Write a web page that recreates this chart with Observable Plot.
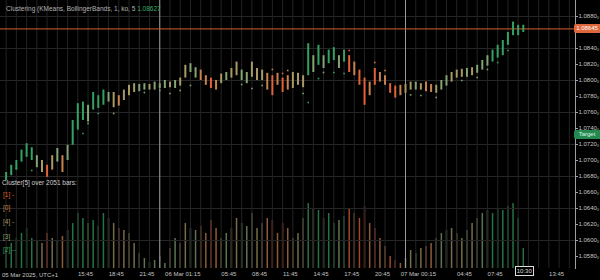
<!DOCTYPE html>
<html><head><meta charset="utf-8">
<script src="https://cdn.jsdelivr.net/npm/d3@7"></script>
<script src="https://cdn.jsdelivr.net/npm/@observablehq/plot@0.6"></script>
<style>
html,body{margin:0;padding:0;background:#000;}
#chart{position:relative;width:600px;height:280px;overflow:hidden;background:#000;font-family:"Liberation Sans",Arial,sans-serif;font-size:6.5px;color:#bdbdbd;}
#chart svg{position:absolute;left:0;top:0;}
.lbl{position:absolute;white-space:nowrap;line-height:1;}
.box{position:absolute;white-space:nowrap;text-align:center;font-size:6px;}
</style></head><body>
<div id="chart"></div>
<script>
// ---- data (30-minute bars, EURUSD-like) ----
const firstBar = "2025-03-05T08:00:00Z";
const high = [
1.0685,1.0694,1.0700,1.0713,1.0721,1.0716,1.0706,1.0700,1.0694,1.0706,
1.0715,1.0706,1.0719,1.0750,1.0771,1.0773,1.0769,1.0785,1.0781,1.0788,
1.0785,1.0785,1.0781,1.0788,1.0794,1.0796,1.0795,1.0796,1.0795,1.0798,
1.0796,1.0800,1.0798,1.0800,1.0803,1.0819,1.0821,1.0816,1.0813,1.0806,
1.0803,1.0800,1.0808,1.0810,1.0815,1.0823,1.0813,1.0810,1.0823,1.0815,
1.0813,1.0809,1.0806,1.0809,1.0803,1.0806,1.0810,1.0809,1.0806,1.0846,
1.0831,1.0844,1.0831,1.0838,1.0841,1.0831,1.0838,1.0831,1.0823,1.0813,
1.0803,1.0798,1.0815,1.0810,1.0806,1.0796,1.0793,1.0794,1.0795,1.0798,
1.0798,1.0796,1.0798,1.0795,1.0794,1.0800,1.0806,1.0810,1.0813,1.0814,
1.0815,1.0816,1.0819,1.0825,1.0831,1.0838,1.0844,1.0850,1.0860,1.0873,
1.0869,1.0869];
const low = [
1.0675,1.0681,1.0688,1.0698,1.0704,1.0700,1.0691,1.0685,1.0679,1.0688,
1.0698,1.0685,1.0700,1.0719,1.0738,1.0750,1.0748,1.0763,1.0765,1.0769,
1.0773,1.0766,1.0768,1.0775,1.0781,1.0785,1.0786,1.0788,1.0788,1.0788,
1.0790,1.0790,1.0791,1.0790,1.0793,1.0803,1.0810,1.0803,1.0800,1.0794,
1.0790,1.0788,1.0796,1.0800,1.0803,1.0806,1.0800,1.0796,1.0804,1.0800,
1.0800,1.0788,1.0781,1.0794,1.0785,1.0788,1.0790,1.0794,1.0791,1.0806,
1.0810,1.0819,1.0815,1.0821,1.0825,1.0815,1.0823,1.0810,1.0806,1.0794,
1.0769,1.0781,1.0794,1.0798,1.0794,1.0784,1.0778,1.0781,1.0784,1.0788,
1.0788,1.0788,1.0786,1.0785,1.0784,1.0788,1.0793,1.0798,1.0803,1.0804,
1.0804,1.0806,1.0809,1.0813,1.0818,1.0823,1.0828,1.0831,1.0844,1.0856,
1.0856,1.0860];
const cluster = [
2,2,2,2,2,2,3,4,1,4,
3,0,3,2,2,2,3,2,2,2,
3,4,0,4,4,4,3,3,4,3,
3,3,4,3,4,4,3,3,0,0,
1,0,4,3,4,4,3,3,4,4,
4,0,1,0,1,0,4,4,4,2,
3,2,3,2,2,3,2,1,0,1,
1,0,1,0,0,1,1,0,4,4,
3,4,0,0,4,3,3,4,4,4,
3,4,3,3,3,2,2,2,2,2,
2,2];
const volume = [
2000,2500,3000,3500,4000,3000,2800,2500,3500,3000,
2800,3200,3800,4500,5500,5000,4500,4800,4200,5500,
5000,4500,4000,3800,3500,2500,1500,1000,600,800,
1200,500,2000,3000,2500,4500,4000,3800,4200,3500,
4800,4000,3000,3500,4000,5000,4500,4200,5500,4000,
4500,5000,4800,3500,4500,4000,3000,3500,5000,6500,
6000,5800,5000,5500,4500,4800,5200,6000,5500,5000,
6200,4500,4000,3000,2200,1200,800,500,1000,1800,
1500,2000,2200,2500,3000,3500,3800,4000,3500,3000,
3800,4500,5000,5500,5800,5500,6000,5800,6200,6500,
5000,2000];
// small cluster markers (bar index, price, cluster)
const dotBar = [1,2,5,12,15,16,18,21,27,30,32,34,36,42,46,48,50,52,54,55,58,59,61,62,64,66,67,72,74,79,81,84,89,92,94,96,98];
const dotPrice = [1.0685,1.0690,1.06875,1.07025,1.07338,1.07463,1.07588,1.07588,1.0785,1.07875,1.07838,1.07875,1.07938,1.0800,1.0795,1.0790,1.07938,1.08138,1.08088,1.08125,1.07838,1.07725,1.08025,1.0810,1.0810,1.08088,1.08375,1.08225,1.08125,1.0782,1.07813,1.07788,1.0800,1.08038,1.08138,1.08225,1.08375];
const dotCluster = [2,2,2,2,2,3,2,3,3,3,3,4,3,3,3,3,3,0,1,0,3,2,2,3,2,2,1,1,0,3,3,3,3,3,3,2,2];

const priceTicks = [1.058,1.060,1.062,1.064,1.066,1.068,1.070,1.072,1.074,1.076,1.078,1.080,1.082,1.084,1.088];
const gridPrices = [1.060,1.064,1.068,1.072,1.076,1.080,1.084,1.088];
const timeTicks = ["2025-03-05T15:45:00Z","2025-03-05T18:45:00Z","2025-03-05T21:45:00Z","2025-03-06T01:15:00Z","2025-03-06T05:45:00Z","2025-03-06T08:45:00Z","2025-03-06T11:45:00Z","2025-03-06T14:45:00Z","2025-03-06T17:45:00Z","2025-03-06T20:45:00Z","2025-03-07T00:15:00Z","2025-03-07T04:45:00Z","2025-03-07T07:45:00Z","2025-03-07T13:45:00Z"];
const timeTickLabels = ["15:45","18:45","21:45","06 Mar 01:15","05:45","08:45","11:45","14:45","17:45","20:45","07 Mar 00:15","04:45","07:45","13:45"];
const daySeparators = ["2025-03-05T23:00:00Z","2025-03-06T23:00:00Z"];
const startLabel = "05 Mar 2025, UTC+1";
const lastPrice = 1.08645;
const lastPriceLabel = "1.08645";
const targetPrice = 1.07313;
const targetLabel = "Target";
const lastTimeLabel = "10:30";
const titleText = "Clustering (KMeans, BollingerBands, 1, ko, 5";
const titleValue = "1.08627";
const legendTitle = "Cluster[5] over 2051 bars:";
const legendLabels = ["[1] -","[0]","[4] -","[3]","[2] --"];
const legendClusters = [1,0,4,3,2];
const clusterColor = {1:"#e2623a",0:"#c9824f",4:"#a89a62",3:"#83a474",2:"#36a262"};

// ---- build ----
const t0 = new Date(firstBar);
const times = d3.utcMinute.every(30).range(t0, new Date(+t0 + high.length*30*60000));
const bars = high.map((h,i)=>({t:times[i],high:h,low:low[i],c:cluster[i],vol:volume[i]}));
const dots = dotBar.map((b,i)=>({t:times[b],p:dotPrice[i],c:dotCluster[i]}));
const xDomain = [new Date("2025-03-05T07:27:00Z"), new Date("2025-03-07T15:36:00Z")];
const gridTimes = d3.utcMinute.every(90).range(xDomain[0], xDomain[1]);
const labelMap = new Map(timeTicks.map((d,i)=>[+new Date(d), timeTickLabels[i]]));
const W=600,H=280;
const common = {width:W,height:H,marginLeft:0,marginRight:25,marginTop:0,marginBottom:12};

const volPlot = Plot.plot({...common,
  x:{type:"utc",domain:xDomain,axis:null,label:null},
  y:{domain:[0,26800],axis:null,label:null},
  style:{background:"transparent"},
  marks:[Plot.ruleX(bars,{x:"t",y1:0,y2:"vol",stroke:d=>clusterColor[d.c],strokeWidth:1.5,strokeOpacity:0.7})]
});

const pricePlot = Plot.plot({...common,
  x:{type:"utc",domain:xDomain,label:null},
  y:{domain:[1.0565,1.0900],label:null},
  style:{background:"transparent",color:"#bdbdbd",fontSize:"6px",fontFamily:"Liberation Sans, Arial, sans-serif"},
  marks:[
    Plot.ruleY(gridPrices,{stroke:"#262626"}),
    Plot.ruleX(gridTimes,{stroke:"#232323"}),
    Plot.ruleX(daySeparators.map(d=>new Date(d)),{stroke:"#9a9a9a"}),
    Plot.ruleY([lastPrice],{stroke:"#d65b35"}),
    Plot.ruleX(bars,{x:"t",y1:"low",y2:"high",stroke:d=>clusterColor[d.c],strokeWidth:2}),
    Plot.dot(dots,{x:"t",y:"p",fill:d=>clusterColor[d.c],r:0.9,symbol:"square"}),
    Plot.frame({anchor:"right",stroke:"#a0a0a0"}),
    Plot.axisY(priceTicks,{anchor:"right",label:null,tickSize:2,tickPadding:1,stroke:"#a0a0a0",fill:"#c4c4c4",fontSize:6,letterSpacing:"-0.2px",tickFormat:d=>d.toFixed(4)+"\u2080"}),
    Plot.axisX(timeTicks.map(d=>new Date(d)),{label:null,tickSize:0,tickPadding:3,fill:"#c4c4c4",fontSize:6,tickFormat:d=>labelMap.get(+d)})
  ]
});

const root = document.getElementById("chart");
root.appendChild(volPlot);
root.appendChild(pricePlot);
const xs = pricePlot.scale("x"), ys = pricePlot.scale("y");

function addLabel(html, style){const d=document.createElement("div");d.className="lbl";d.innerHTML=html;Object.assign(d.style,style);root.appendChild(d);return d;}
addLabel(`${titleText} <span style="color:#3fae6a">${titleValue}</span>`,{left:"6px",top:"6px",color:"#b5b5b5"});
addLabel(legendTitle,{left:"2px",top:"180px",color:"#cfcfcf"});
const legendTops=[192,205,219,234,247];
legendLabels.forEach((l,i)=>addLabel(l,{left:"3px",top:legendTops[i]+"px",color:clusterColor[legendClusters[i]]}));
addLabel(startLabel,{left:"2px",top:"272px",color:"#c4c4c4",fontSize:"6px"});

function box(text, yv, bg, fg){const d=document.createElement("div");d.className="box";d.textContent=text;
  Object.assign(d.style,{left:"574px",width:"26px",height:"9px",lineHeight:"9px",top:(ys.apply(yv)-4.5)+"px",background:bg,color:fg,borderRadius:"2px 0 0 2px"});root.appendChild(d);}
box(lastPriceLabel,lastPrice,"#e0663b","#fff");
box(targetLabel,targetPrice,"#23894f","#dff3e4");
const tb=document.createElement("div");tb.className="box";tb.textContent=lastTimeLabel;
Object.assign(tb.style,{left:(xs.apply(times[times.length-1])-8)+"px",top:"266px",width:"17px",height:"8px",lineHeight:"8px",border:"1px solid #ddd",background:"#000",color:"#ddd"});
root.appendChild(tb);
</script>
</body></html>
